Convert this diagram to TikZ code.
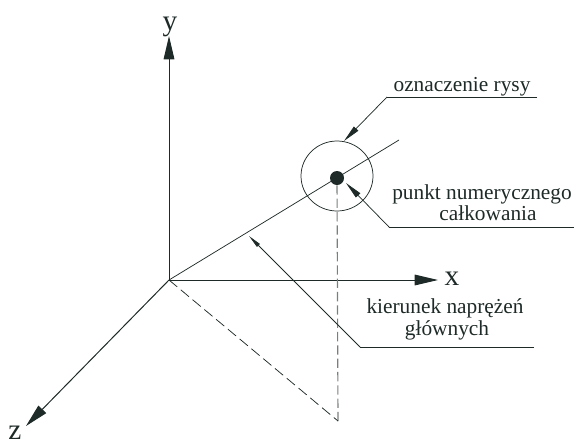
\documentclass[tikz,border=0pt]{standalone}
\usepackage{fontspec}
\setmainfont{Liberation Serif}
\usetikzlibrary{arrows.meta}
\definecolor{ink}{HTML}{1E2A28}
\definecolor{dashgray}{HTML}{7A7F7E}
\tikzset{
  line/.style={draw=ink, line width=0.75pt},
  thinline/.style={draw=ink, line width=0.55pt},
  axis/.style={line, -{Triangle[length=17.5pt,width=8pt]}},
  leader/.style={thinline, -{Triangle[length=13pt,width=4.5pt]}},
  smallleader/.style={thinline, -{Triangle[length=10pt,width=3pt]}},
  dashedline/.style={draw=ink, line width=0.55pt, dash pattern=on 8pt off 3.5pt},
  dashedgray/.style={draw=dashgray, line width=0.85pt, dash pattern=on 7pt off 3pt},
  dot/.style={circle, fill=ink, inner sep=0pt, minimum size=10.5pt},
  lbl/.style={text=ink, font=\fontsize{16}{20}\selectfont, align=center, anchor=base, inner sep=0pt},
  axlbl/.style={text=ink, font=\fontsize{22}{26}\selectfont, anchor=base, inner sep=0pt}
}
\begin{document}
\begin{tikzpicture}[x=0.75pt,y=-0.75pt]
  \useasboundingbox (0,0) rectangle (574,443);
  \coordinate (O) at (169,280);
  \coordinate (Y) at (169,36);
  \coordinate (X) at (438,280);
  \coordinate (Z) at (26,426);
  \coordinate (E) at (399,140);
  \coordinate (F) at (338,421);

  \draw[axis] (O) -- (Y);
  \draw[axis] (O) -- (X);
  \draw[axis] (O) -- (Z);
  \node[axlbl] (ylab) at (170,30) {y};
  \node[axlbl] (xlab) at (452,285) {x};
  \node[axlbl] (zlab) at (15,439) {z};

  \node[dot] (P) at (337,178) {};
  \draw[thinline] (337,176) ellipse (36 and 35);
  \draw[thinline] (O) -- (E);

  \draw[dashedgray] (P) -- (F);
  \draw[dashedline] (O) -- (F);

  % oznaczenie rysy
  \node[lbl] (rysa) at (462,91) {oznaczenie rysy};
  \coordinate (R1) at (537,97);
  \coordinate (R2) at (387,97);
  \coordinate (R3) at (344,141);
  \draw[line] (R1) -- (R2);
  \draw[leader] (R2) -- (R3);

  % punkt calkowania
  \node[lbl] (punkt) at (482,199) {punkt numerycznego};
  \node[lbl] (calk) at (488,220) {całkowania};
  \coordinate (C1) at (574,227);
  \coordinate (C2) at (389,227);
  \coordinate (C3) at (346,183);
  \draw[line] (C1) -- (C2);
  \draw[leader] (C2) -- (C3);

  % kierunek naprezen
  \node[lbl] (kier) at (445,313) {kierunek naprężeń};
  \node[lbl] (glow) at (447,335) {głównych};
  \coordinate (K1) at (534,347);
  \coordinate (K2) at (360,347);
  \coordinate (K3) at (249,236);
  \draw[line] (K1) -- (K2);
  \draw[smallleader] (K2) -- (K3);
\end{tikzpicture}
\end{document}
